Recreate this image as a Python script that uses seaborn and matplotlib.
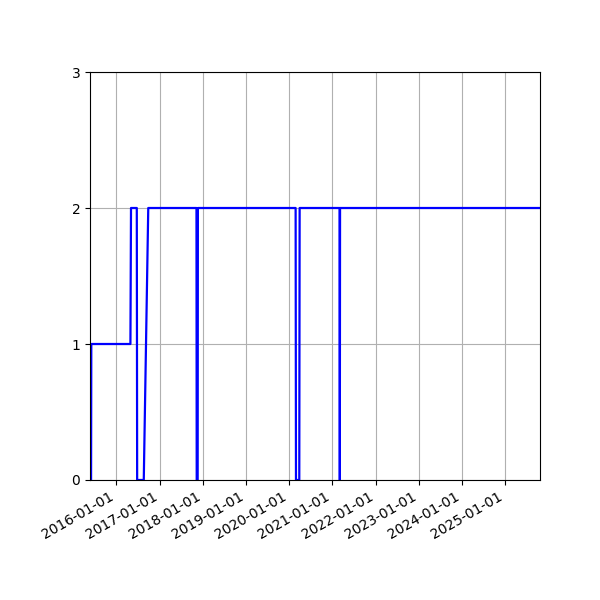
import matplotlib
matplotlib.use("Agg")
import matplotlib.pyplot as plt
import matplotlib.dates as mdates
import pandas as pd
import seaborn as sns

# points of the series (date, level)
dates = [
    "2015-05-31", "2015-06-02",
    "2016-04-28", "2016-05-03",
    "2016-06-21", "2016-06-24",
    "2016-08-19", "2016-09-26",
    "2017-11-08", "2017-11-10", "2017-11-18", "2017-11-20",
    "2020-02-25", "2020-02-28", "2020-03-27", "2020-03-30",
    "2021-03-03", "2021-03-05", "2021-03-07",
    "2025-10-24",
]
levels = [
    0, 1,
    1, 2,
    2, 0,
    0, 2,
    2, 0, 0, 2,
    2, 0, 0, 2,
    2, 0, 2,
    2,
]
x_start = "2015-05-22"
x_end = "2025-10-24"

df = pd.DataFrame({"date": pd.to_datetime(dates), "level": levels})

fig, ax = plt.subplots(figsize=(6, 6), dpi=100)

sns.lineplot(data=df, x="date", y="level", color="blue", linewidth=1.6, ax=ax)

ax.set_xlim(pd.Timestamp(x_start), pd.Timestamp(x_end))
ax.set_ylim(0, 3)
ax.set_yticks([0, 1, 2, 3])
ax.xaxis.set_major_locator(mdates.YearLocator())
ax.xaxis.set_major_formatter(mdates.DateFormatter("%Y-%m-%d"))
ax.set_xlabel("")
ax.set_ylabel("")
ax.grid(True)
ax.set_axisbelow(True)
fig.autofmt_xdate()
fig.subplots_adjust(left=0.15, right=0.9, top=0.88, bottom=0.2)

fig.savefig("out.png", dpi=100)
